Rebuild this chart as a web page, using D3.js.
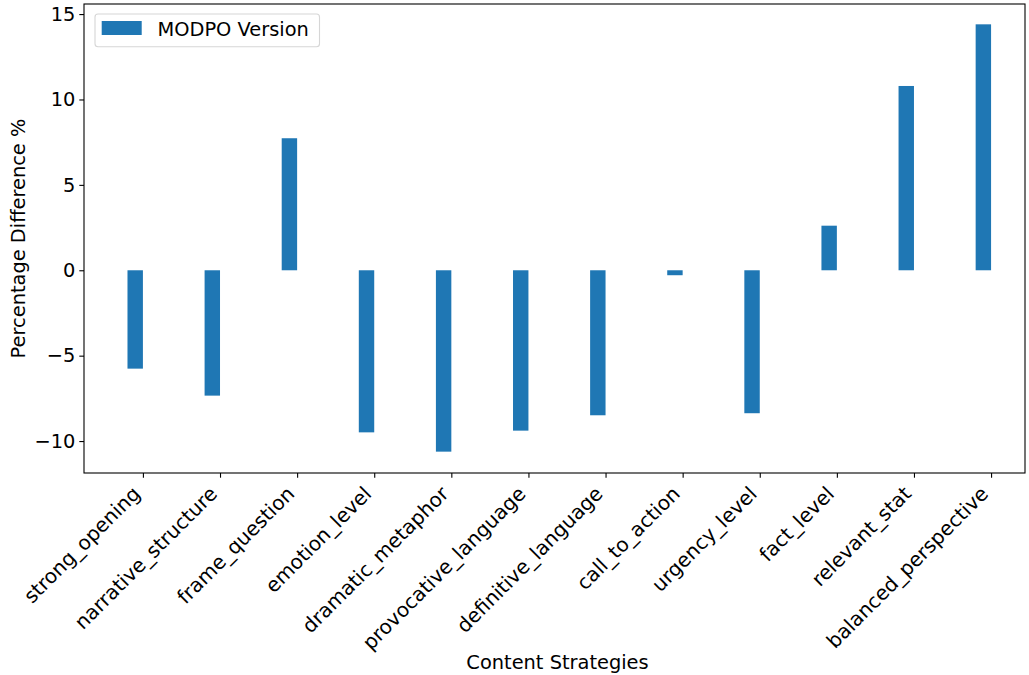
<!DOCTYPE html>
<html>
<head>
<meta charset="utf-8">
<script src="https://cdn.jsdelivr.net/npm/d3@7/dist/d3.min.js"></script>
<style>
  html, body { margin: 0; padding: 0; background: #fff; }
  svg { display: block; }
  text { font-family: "DejaVu Sans", sans-serif; fill: #000; }
</style>
</head>
<body>
<svg id="chart" width="1029" height="675"></svg>
<script>
// Percentage difference per content strategy
const categories = [
  "strong_opening", "narrative_structure", "frame_question", "emotion_level",
  "dramatic_metaphor", "provocative_language", "definitive_language", "call_to_action",
  "urgency_level", "fact_level", "relevant_stat", "balanced_perspective"
];
const modpoValues = [-5.76, -7.34, 7.73, -9.49, -10.62, -9.39, -8.49, -0.29, -8.37, 2.61, 10.79, 14.40];
const yTicks = [-10, -5, 0, 5, 10, 15];
const seriesName = "MODPO Version";
const barColor = "#1f77b4";
const barWidth = 0.2;

const svg = d3.select("#chart");
const plot = { left: 84, right: 1025, top: 4, bottom: 473 };
const fs = 19.4;
const catFs = 20;

// x is a numeric position scale over category indices (bars sit just left of each tick)
const x = d3.scaleLinear().domain([-0.764, 11.44]).range([plot.left, plot.right]);
const y = d3.scaleLinear().domain([-11.87, 15.59]).range([plot.bottom, plot.top]);

// bars
svg.append("g")
  .selectAll("rect")
  .data(modpoValues)
  .join("rect")
  .attr("x", (d, i) => x(i - barWidth))
  .attr("width", (d, i) => x(i) - x(i - barWidth))
  .attr("y", d => y(Math.max(0, d)))
  .attr("height", d => Math.abs(y(d) - y(0)))
  .attr("fill", barColor);

// y axis
const yAxis = d3.axisLeft(y).tickValues(yTicks).tickSize(4.7).tickPadding(4)
  .tickFormat(d => d < 0 ? "\u2212" + Math.abs(d) : String(d));
const gy = svg.append("g").attr("transform", `translate(${plot.left},0)`).call(yAxis);
gy.select(".domain").remove();
gy.selectAll(".tick line").attr("stroke", "#000").attr("stroke-width", 1.1);
gy.selectAll(".tick text").style("font-size", fs + "px").attr("fill", "#000");

// x axis ticks
const xAxis = d3.axisBottom(x).tickValues(d3.range(categories.length)).tickSize(4.7).tickFormat(() => "");
const gx = svg.append("g").attr("transform", `translate(0,${plot.bottom})`).call(xAxis);
gx.select(".domain").remove();
gx.selectAll(".tick line").attr("stroke", "#000").attr("stroke-width", 1.1);

// rotated category labels
svg.append("g")
  .selectAll("text")
  .data(categories)
  .join("text")
  .attr("transform", (d, i) => `translate(${x(i) - 1.5},${plot.bottom + 22}) rotate(-45)`)
  .attr("text-anchor", "end")
  .style("font-size", catFs + "px")
  .text(d => d);

// frame
svg.append("rect")
  .attr("x", plot.left).attr("y", plot.top)
  .attr("width", plot.right - plot.left).attr("height", plot.bottom - plot.top)
  .attr("fill", "none").attr("stroke", "#000").attr("stroke-width", 1.1);

// axis titles
svg.append("text")
  .attr("x", (plot.left + plot.right) / 2 + 3).attr("y", 669)
  .attr("text-anchor", "middle").style("font-size", fs + "px")
  .text("Content Strategies");

svg.append("text")
  .attr("transform", `translate(25,${(plot.top + plot.bottom) / 2}) rotate(-90)`)
  .attr("text-anchor", "middle").style("font-size", fs + "px")
  .text("Percentage Difference %");

// legend
const lg = svg.append("g");
lg.append("rect")
  .attr("x", 95).attr("y", 14).attr("width", 224.5).attr("height", 32.7)
  .attr("rx", 3).attr("ry", 3)
  .attr("fill", "#fff").attr("fill-opacity", 0.8)
  .attr("stroke", "#d6d6d6").attr("stroke-width", 1.1);
lg.append("rect")
  .attr("x", 101.7).attr("y", 21).attr("width", 40).attr("height", 14)
  .attr("fill", barColor);
lg.append("text")
  .attr("x", 157.5).attr("y", 35.5)
  .style("font-size", fs + "px")
  .text(seriesName);
</script>
</body>
</html>
